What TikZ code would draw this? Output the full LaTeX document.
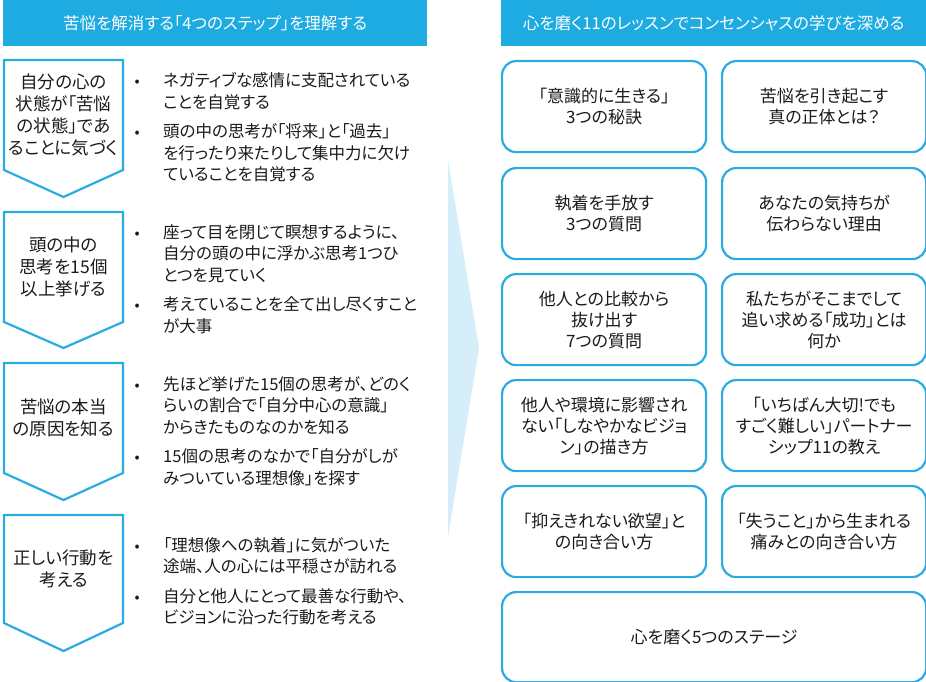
\documentclass[tikz,border=0pt]{standalone}
\usepackage{fontspec}
\setmainfont{Noto Sans CJK JP}[RawFeature=+palt]
\usetikzlibrary{positioning}
\definecolor{headblue}{HTML}{1EABE2}
\definecolor{lineblue}{HTML}{2AACE2}
\definecolor{paleblue}{HTML}{D5EEF9}
\definecolor{inkgray}{HTML}{1A1A1A}
\newcommand\dotmark{\makebox[30pt][l]{\hspace*{4pt}\makebox[0pt]{\fontsize{15}{15}\selectfont •}}}

\begin{document}
\begin{tikzpicture}[x=1pt,y=-1pt,every node/.style={font=\fontsize{16.5}{21.5}\selectfont,text=inkgray},
  header/.style={fill=headblue,text=white,minimum height=46pt,inner sep=0pt,anchor=north west,font=\fontsize{16.5}{20}\selectfont},
  chevron/.style={draw=lineblue,line width=2.2pt,line join=miter},
  steplabel/.style={align=center,font=\fontsize{17.5}{22}\selectfont},
  points/.style={anchor=west,inner sep=0pt},
  lesson/.style={draw=lineblue,line width=2.2pt,rounded corners=14pt,minimum width=204pt,minimum height=91pt,inner sep=0pt,anchor=north west,align=center,font=\fontsize{17}{21}\selectfont}]
\useasboundingbox (0,0) rectangle (926,682);
\fill[paleblue] (448,160) -- (479,348) -- (448,537) -- cycle;
\node[header,minimum width=424pt] (lefthead) at (3,0) {苦悩を解消する「4つのステップ」を理解する};
\node[header,minimum width=425pt] (righthead) at (501,0) {心を磨く11のレッスンでコンセンシャスの学びを深める};
\draw[chevron] (4,60) -- (123,60) -- (123,170) -- (63.5,197) -- (4,170) -- cycle;
\draw[chevron] (4,212) -- (123,212) -- (123,322) -- (63.5,348) -- (4,322) -- cycle;
\draw[chevron] (4,363) -- (123,363) -- (123,473) -- (63.5,500) -- (4,473) -- cycle;
\draw[chevron] (4,515) -- (123,515) -- (123,623) -- (63.5,651) -- (4,623) -- cycle;
\node[steplabel] (stepone) at (63.5,115) {自分の心の\\状態が「苦悩\\の状態」であ\\ることに気づく};
\node[steplabel] (steptwo) at (63.5,267) {頭の中の\\思考を15個\\以上挙げる};
\node[steplabel] (stepthree) at (63.5,418) {苦悩の本当\\の原因を知る};
\node[steplabel] (stepfour) at (63.5,569) {正しい行動を\\考える};
\node[points] (pointsone) at (133,129.5) {\begin{tabular}{@{}l@{}l@{}}\dotmark & ネガティブな感情に支配されている\\ & ことを自覚する\\[8pt] \dotmark & 頭の中の思考が「将来」と「過去」\\ & を行ったり来たりして集中力に欠け\\ & ていることを自覚する\end{tabular}};
\node[points] (pointstwo) at (133,281) {\begin{tabular}{@{}l@{}l@{}}\dotmark & 座って目を閉じて瞑想するように、\\ & 自分の頭の中に浮かぶ思考1つひ\\ & とつを見ていく\\[8pt] \dotmark & 考えていることを全て出し尽くすこと\\ & が大事\end{tabular}};
\node[points] (pointsthree) at (133,433) {\begin{tabular}{@{}l@{}l@{}}\dotmark & 先ほど挙げた15個の思考が、どのく\\ & らいの割合で「自分中心の意識」\\ & からきたものなのかを知る\\[8pt] \dotmark & 15個の思考のなかで「自分がしが\\ & みついている理想像」を探す\end{tabular}};
\node[points] (pointsfour) at (133,583) {\begin{tabular}{@{}l@{}l@{}}\dotmark & 「理想像への執着」に気がついた\\ & 途端、人の心には平穏さが訪れる\\[8pt] \dotmark & 自分と他人にとって最善な行動や、\\ & ビジョンに沿った行動を考える\end{tabular}};
\node[lesson] (secret) at (501,60) {「意識的に生きる」\\3つの秘訣};
\node[lesson] (truth) at (721,60) {苦悩を引き起こす\\真の正体とは？};
\node[lesson] (release) at (501,167) {執着を手放す\\3つの質問};
\node[lesson] (feelings) at (721,167) {あなたの気持ちが\\伝わらない理由};
\node[lesson] (compare) at (501,273) {他人との比較から\\抜け出す\\7つの質問};
\node[lesson] (success) at (721,273) {私たちがそこまでして\\追い求める「成功」とは\\何か};
\node[lesson] (vision) at (501,379) {他人や環境に影響され\\ない「しなやかなビジョ\\ン」の描き方};
\node[lesson] (partner) at (721,379) {「いちばん大切!でも\\すごく難しい」パートナー\\シップ11の教え};
\node[lesson] (desire) at (501,485) {「抑えきれない欲望」と\\の向き合い方};
\node[lesson] (loss) at (721,485) {「失うこと」から生まれる\\痛みとの向き合い方};
\node[lesson,minimum width=424pt,minimum height=90pt] (stages) at (501,591) {心を磨く5つのステージ};
\end{tikzpicture}
\end{document}
